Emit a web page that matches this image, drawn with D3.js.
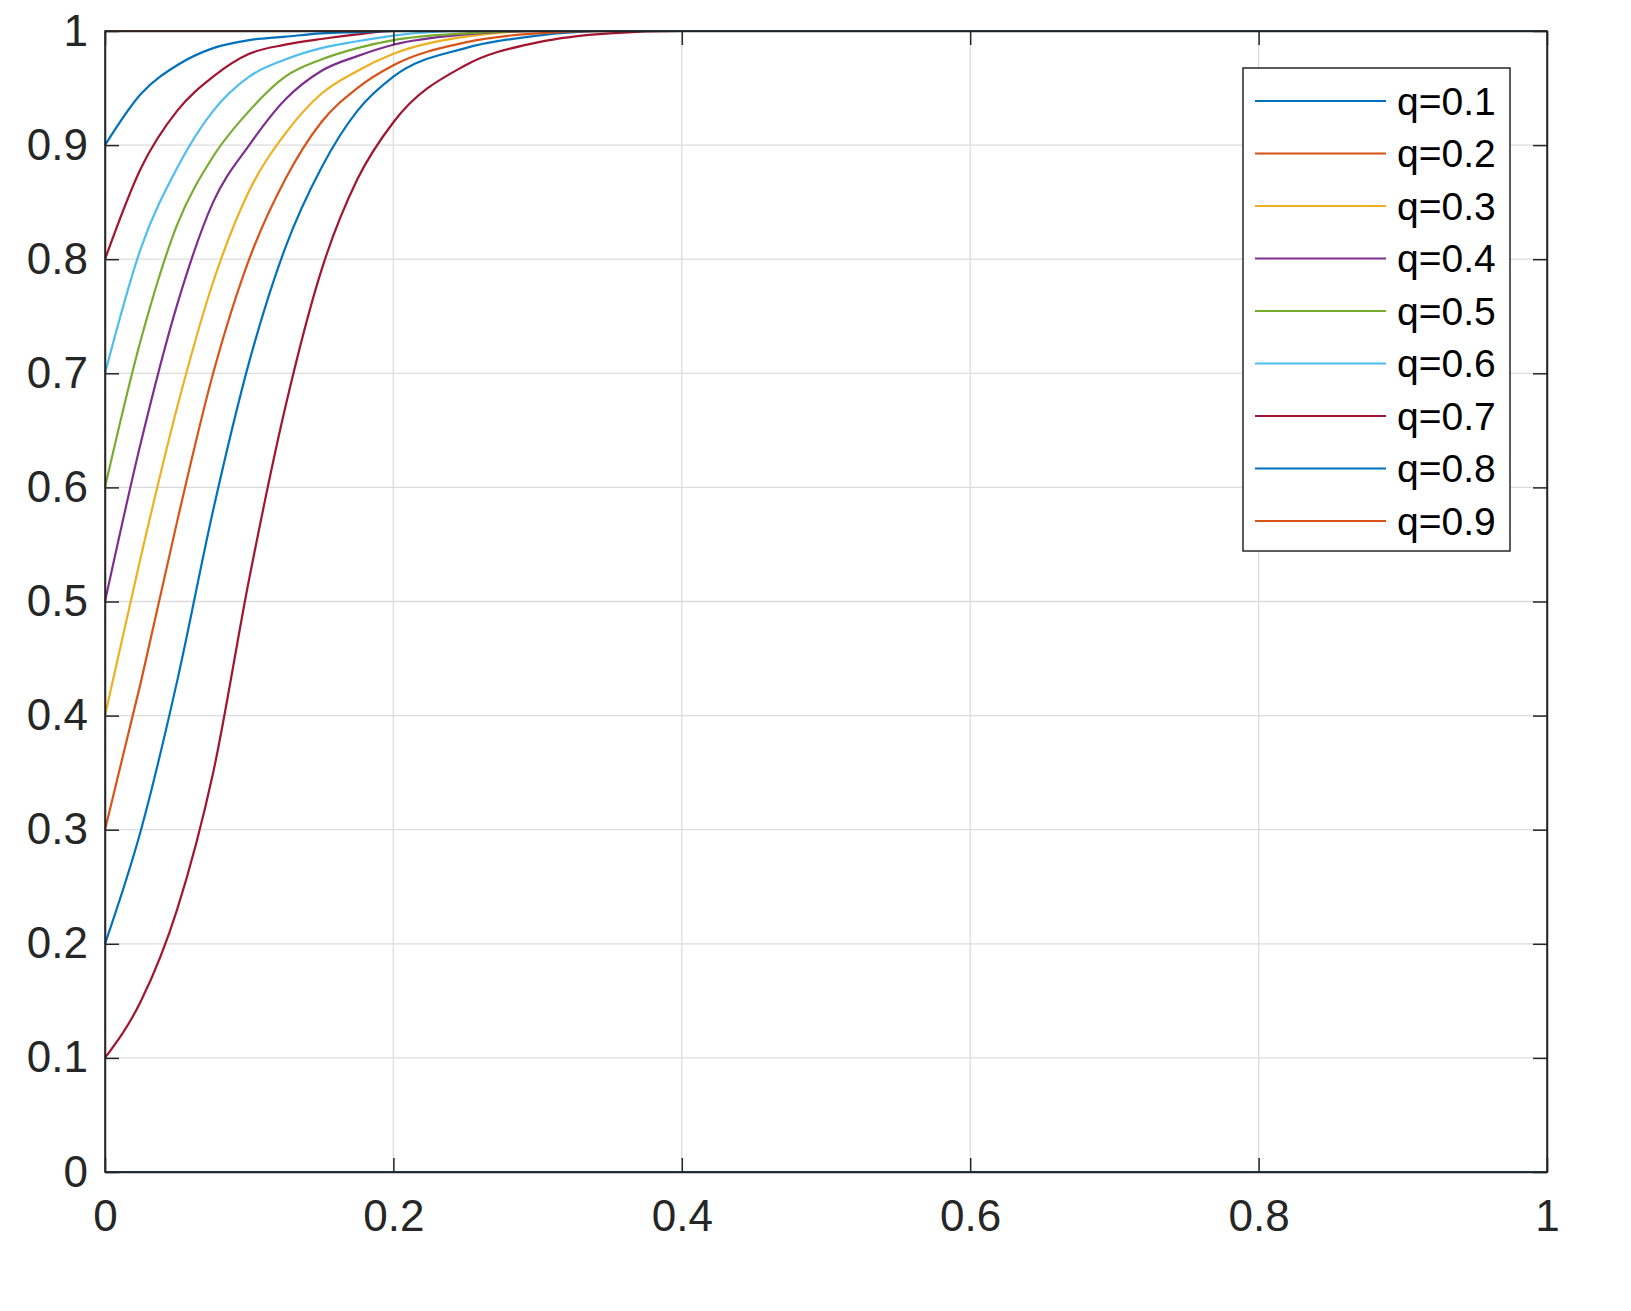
<!DOCTYPE html>
<html><head><meta charset="utf-8">
<script src="https://cdn.jsdelivr.net/npm/d3@7"></script>
<style>body{margin:0;background:#fff}</style>
</head><body><svg id="c" width="1631" height="1311"></svg>
<script>
const xTicks=[0,0.2,0.4,0.6,0.8,1];
const yTicks=[0,0.1,0.2,0.3,0.4,0.5,0.6,0.7,0.8,0.9,1];
const legendLabels=["q=0.1","q=0.2","q=0.3","q=0.4","q=0.5","q=0.6","q=0.7","q=0.8","q=0.9"];
const legendColors=["#0072BD","#D95319","#EDB120","#7E2F8E","#77AC30","#4DBEEE","#A2142F","#0072BD","#D95319"];
const xs=[0,0.025,0.05,0.075,0.1,0.125,0.15,0.175,0.2,0.25,0.3,0.35,0.4,1];
const s01=[0.1,0.15,0.23,0.35,0.52,0.67,0.79,0.87,0.92,0.97,0.99,0.998,1,1];
const s02=[0.2,0.3,0.43,0.58,0.71,0.81,0.88,0.93,0.96,0.985,0.996,1,1,1];
const s03=[0.3,0.43,0.57,0.7,0.8,0.87,0.92,0.95,0.97,0.99,0.998,1,1,1];
const s04=[0.4,0.54,0.67,0.78,0.86,0.91,0.945,0.965,0.98,0.995,1,1,1,1];
const s05=[0.5,0.64,0.76,0.85,0.9,0.94,0.965,0.978,0.988,0.997,1,1,1,1];
const s06=[0.6,0.73,0.83,0.89,0.93,0.96,0.975,0.985,0.992,0.998,1,1,1,1];
const s07=[0.7,0.81,0.88,0.93,0.96,0.975,0.985,0.991,0.996,1,1,1,1,1];
const s08=[0.8,0.88,0.93,0.96,0.98,0.988,0.993,0.997,1,1,1,1,1,1];
const s09=[0.9,0.945,0.97,0.985,0.992,0.995,0.998,0.999,1,1,1,1,1,1];
const s10=xs.map(()=>1);
const s00=xs.map(()=>0);
const series=[
 {v:s10,c:"#D95319"},{v:s00,c:"#0072BD"},
 {v:s01,c:"#A2142F"},{v:s02,c:"#0072BD"},{v:s03,c:"#D95319"},{v:s04,c:"#EDB120"},
 {v:s05,c:"#7E2F8E"},{v:s06,c:"#77AC30"},{v:s07,c:"#4DBEEE"},{v:s08,c:"#A2142F"},{v:s09,c:"#0072BD"}];
const L=105,R=1547,T=31,B=1172;
const x=d3.scaleLinear().domain([0,1]).range([L,R]);
const y=d3.scaleLinear().domain([0,1]).range([B,T]);
const svg=d3.select("#c");
const font="'Liberation Sans',Arial,sans-serif";
svg.append("g").selectAll("line").data(xTicks).join("line").attr("x1",d=>x(d)).attr("x2",d=>x(d)).attr("y1",T).attr("y2",B).attr("stroke","#dcdcdc").attr("stroke-width",1.3);
svg.append("g").selectAll("line").data(yTicks).join("line").attr("y1",d=>y(d)).attr("y2",d=>y(d)).attr("x1",L).attr("x2",R).attr("stroke","#dcdcdc").attr("stroke-width",1.3);
const line=d3.line().x((d,i)=>x(xs[i])).y(d=>y(d)).curve(d3.curveMonotoneX);
svg.append("g").selectAll("path").data(series).join("path").attr("d",d=>line(d.v)).attr("fill","none").attr("stroke",d=>d.c).attr("stroke-width",2.2);
const ax=[d3.axisBottom(x).tickValues(xTicks).tickSizeInner(-14).tickSizeOuter(0).tickPadding(28).tickFormat(d3.format("")),
 d3.axisLeft(y).tickValues(yTicks).tickSizeInner(-14).tickSizeOuter(0).tickPadding(17).tickFormat(d3.format(""))];
const gx=svg.append("g").attr("transform",`translate(0,${B})`).call(ax[0]);
const gy=svg.append("g").attr("transform",`translate(${L},0)`).call(ax[1]);
svg.append("g").attr("transform",`translate(0,${T})`).call(d3.axisTop(x).tickValues(xTicks).tickSizeInner(-14).tickSizeOuter(0).tickFormat(""));
svg.append("g").attr("transform",`translate(${R},0)`).call(d3.axisRight(y).tickValues(yTicks).tickSizeInner(-14).tickSizeOuter(0).tickFormat(""));
svg.selectAll(".domain,.tick line").attr("stroke","#262626").attr("stroke-width",1.5);
[gx,gy].forEach(g=>g.selectAll("text").attr("font-family",font).attr("font-size",44).attr("fill","#262626"));
gx.selectAll("text").attr("dy","0.71em");
svg.append("rect").attr("x",L).attr("y",T).attr("width",R-L).attr("height",B-T).attr("fill","none").attr("stroke","#262626").attr("stroke-width",1.5);
const lg=svg.append("g");
lg.append("rect").attr("x",1243).attr("y",68).attr("width",267).attr("height",483).attr("fill","#fff").attr("stroke","#262626").attr("stroke-width",1.5);
const ly=d3.scalePoint().domain(legendLabels).range([101,521]);
lg.selectAll("line").data(legendLabels).join("line").attr("x1",1255).attr("x2",1386).attr("y1",d=>ly(d)).attr("y2",d=>ly(d)).attr("stroke",(d,i)=>legendColors[i]).attr("stroke-width",2);
lg.selectAll("text").data(legendLabels).join("text").attr("x",1397).attr("y",d=>ly(d)).attr("dy","0.35em").text(d=>d).attr("font-family",font).attr("font-size",39).attr("fill","#000");
</script></body></html>
